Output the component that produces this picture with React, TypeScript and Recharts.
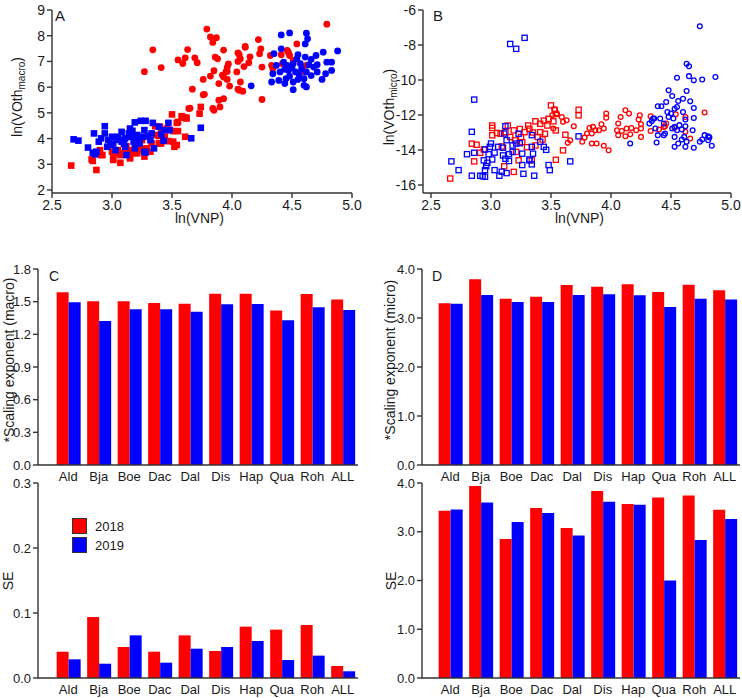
import React from "react";
import {
  ScatterChart,
  Scatter,
  BarChart,
  Bar,
  XAxis,
  YAxis,
  Legend,
} from "recharts";

// ---- panel A: ln(VOth macro) vs ln(VNP) ----
const aRed2018Sq = [
  [2.66, 2.95], [2.87, 2.78], [2.84, 3.13], [2.92, 3.36], [2.83, 3.19], [2.9, 3.55], [2.91, 3.36], [3.01, 3.17],
  [3.01, 3.23], [3.0, 3.49], [3.03, 3.43], [3.07, 3.06], [3.07, 3.36], [3.09, 3.43], [3.14, 3.55], [3.15, 3.23],
  [3.19, 3.43], [3.21, 3.43], [3.21, 3.68], [3.23, 3.55], [3.25, 3.62], [3.25, 3.94], [3.27, 3.3], [3.29, 3.55],
  [3.29, 3.62], [3.32, 3.49], [3.33, 3.81], [3.36, 4.48], [3.37, 4.14], [3.39, 3.81], [3.39, 4.1], [3.4, 4.46],
  [3.41, 4.33], [3.41, 3.81], [3.43, 4.01], [3.44, 4.07], [3.46, 4.39], [3.47, 3.9], [3.48, 4.33], [3.5, 4.94],
  [3.51, 3.88], [3.51, 4.29], [3.52, 3.68], [3.54, 3.75], [3.54, 4.61], [3.55, 4.29], [3.55, 4.65], [3.58, 4.87],
  [3.59, 4.82], [3.61, 4.82], [3.61, 4.07], [3.62, 4.81], [3.73, 4.97], [3.74, 5.23], [3.62, 4.78], [3.15, 3.3],
  [3.12, 3.7], [3.05, 3.55],
];
const aBlue2019Sq = [
  [2.68, 3.97], [2.72, 3.92], [2.8, 3.65], [2.84, 3.45], [2.85, 4.2], [2.86, 3.39], [2.87, 3.49], [2.89, 3.88],
  [2.91, 4.01], [2.94, 4.48], [2.94, 4.2], [2.96, 3.68], [2.97, 3.94], [3.0, 4.07], [3.01, 3.81], [3.03, 3.55],
  [3.05, 4.07], [3.08, 4.26], [3.08, 3.88], [3.11, 3.68], [3.11, 4.01], [3.12, 3.36], [3.15, 4.39], [3.16, 4.07],
  [3.18, 3.88], [3.19, 3.62], [3.19, 4.63], [3.21, 4.14], [3.23, 3.81], [3.24, 4.69], [3.26, 4.07], [3.27, 4.33],
  [3.27, 3.49], [3.28, 4.69], [3.28, 3.46], [3.32, 3.94], [3.33, 4.2], [3.34, 4.61], [3.35, 3.62], [3.39, 4.46],
  [3.41, 4.17], [3.43, 3.92], [3.44, 4.33], [3.47, 4.61], [3.48, 4.33], [3.66, 4.01], [3.74, 4.42], [3.06, 3.95],
  [3.14, 4.2], [3.22, 3.98], [3.3, 4.1], [3.1, 3.8], [2.99, 3.75], [3.17, 4.3],
];
const aRed2018Ci = [
  [3.27, 6.6], [3.34, 7.45], [3.41, 6.76], [3.55, 7.06], [3.59, 6.92], [3.61, 7.14], [3.63, 7.46], [3.64, 5.17],
  [3.65, 5.18], [3.67, 5.92], [3.69, 7.14], [3.76, 6.3], [3.76, 5.7], [3.77, 5.72], [3.79, 8.26], [3.82, 7.95],
  [3.82, 6.43], [3.84, 7.74], [3.84, 5.17], [3.85, 6.64], [3.85, 5.1], [3.86, 7.17], [3.87, 7.92], [3.89, 6.14],
  [3.89, 5.49], [3.9, 5.23], [3.92, 6.47], [3.93, 7.44], [3.93, 6.39], [3.93, 5.55], [3.95, 6.6], [3.96, 6.77],
  [3.96, 6.3], [3.96, 6.61], [3.97, 6.9], [3.98, 6.04], [4.04, 6.59], [4.05, 7.33], [4.05, 7.0], [4.05, 5.92],
  [4.06, 7.26], [4.06, 5.88], [4.07, 7.1], [4.07, 6.2], [4.09, 5.84], [4.1, 6.8], [4.11, 7.58], [4.11, 7.55],
  [4.14, 6.95], [4.15, 7.18], [4.22, 7.85], [4.23, 7.3], [4.24, 7.49], [4.25, 6.78], [4.25, 5.52], [4.32, 7.23],
  [4.33, 6.85], [4.34, 6.72], [4.41, 7.26], [4.42, 6.91], [4.46, 7.43], [4.47, 7.36], [4.48, 7.23], [4.51, 7.04],
  [4.54, 7.68], [4.61, 6.59], [4.62, 6.85], [4.79, 8.45], [3.88, 7.1], [3.71, 6.95],
];
const aBlue2019Ci = [
  [4.16, 6.05], [4.33, 6.2], [4.34, 6.52], [4.35, 7.3], [4.37, 6.85], [4.39, 6.26], [4.4, 6.59], [4.41, 8.03],
  [4.41, 7.49], [4.43, 6.97], [4.44, 6.14], [4.45, 6.33], [4.46, 6.85], [4.47, 6.65], [4.48, 8.11], [4.48, 6.43],
  [4.51, 6.91], [4.51, 6.2], [4.51, 5.9], [4.53, 6.59], [4.54, 7.1], [4.55, 7.26], [4.55, 6.3], [4.57, 6.91],
  [4.58, 6.72], [4.6, 6.33], [4.6, 6.07], [4.61, 7.68], [4.61, 7.17], [4.62, 8.1], [4.62, 6.59], [4.62, 6.01],
  [4.63, 7.88], [4.64, 6.87], [4.66, 7.08], [4.68, 6.78], [4.7, 7.23], [4.71, 6.87], [4.71, 6.59], [4.75, 6.3],
  [4.76, 7.36], [4.78, 6.52], [4.79, 6.97], [4.83, 6.97], [4.83, 6.65], [4.88, 7.41], [4.5, 6.75], [4.56, 6.5],
  [4.44, 6.7], [4.66, 6.45],
];

// ---- panel B: ln(VOth micro) vs ln(VNP) ----
const bRed2018Sq = [
  [2.66, -15.63], [2.84, -13.64], [2.86, -14.65], [2.88, -13.7], [2.91, -14.16], [2.94, -13.97], [3.01, -12.74],
  [3.01, -13.16], [3.01, -12.6], [3.05, -13.03], [3.08, -13.07], [3.09, -13.8], [3.11, -14.93], [3.12, -12.98],
  [3.14, -12.6], [3.16, -13.26], [3.19, -12.88], [3.19, -15.25], [3.2, -13.45], [3.21, -14.11], [3.23, -14.59],
  [3.25, -13.26], [3.26, -13.55], [3.28, -12.98], [3.3, -13.84], [3.31, -12.6], [3.32, -12.79], [3.34, -14.59],
  [3.37, -12.36], [3.37, -13.74], [3.39, -13.26], [3.41, -12.5], [3.41, -12.98], [3.44, -12.32], [3.45, -13.07],
  [3.47, -12.6], [3.48, -12.22], [3.5, -11.45], [3.52, -12.36], [3.53, -11.7], [3.54, -11.94], [3.54, -12.88],
  [3.54, -14.56], [3.6, -14.02], [3.62, -13.13], [3.73, -11.7], [3.73, -12.02], [3.35, -13.0], [3.24, -12.8],
  [3.43, -13.4],
];
const bBlue2019Sq = [
  [2.67, -14.65], [2.73, -15.15], [2.8, -14.24], [2.84, -12.96], [2.84, -15.47], [2.86, -11.12], [2.86, -14.16],
  [2.91, -15.47], [2.93, -15.5], [2.94, -14.59], [2.95, -15.53], [2.95, -15.15], [2.96, -14.92], [2.97, -14.73],
  [2.95, -13.97], [2.99, -13.82], [2.98, -14.24], [3.0, -13.63], [3.01, -14.54], [3.03, -14.15], [3.03, -15.15],
  [3.06, -13.82], [3.07, -15.47], [3.09, -15.24], [3.1, -14.31], [3.1, -13.87], [3.11, -13.06], [3.12, -14.5],
  [3.12, -12.64], [3.13, -13.44], [3.13, -15.32], [3.15, -14.24], [3.15, -14.63], [3.16, -7.94], [3.18, -13.74],
  [3.18, -14.11], [3.21, -8.22], [3.21, -13.63], [3.23, -13.07], [3.24, -13.61], [3.26, -14.21], [3.26, -14.86],
  [3.27, -15.36], [3.28, -7.59], [3.32, -14.54], [3.32, -14.59], [3.34, -13.15], [3.34, -13.82], [3.35, -14.21],
  [3.34, -14.82], [3.36, -15.47], [3.41, -13.53], [3.44, -13.82], [3.46, -13.99], [3.48, -14.86], [3.49, -15.15],
  [3.66, -14.65], [3.73, -13.22],
];
const bRed2018Ci = [
  [3.51, -12.02], [3.52, -12.77], [3.53, -11.69], [3.55, -11.92], [3.59, -12.11], [3.6, -12.39], [3.63, -12.3],
  [3.64, -13.59], [3.66, -13.44], [3.69, -12.64], [3.76, -13.53], [3.78, -13.28], [3.8, -13.06], [3.82, -12.74],
  [3.84, -13.63], [3.84, -13.06], [3.85, -12.68], [3.87, -12.87], [3.88, -13.63], [3.9, -12.87], [3.92, -12.53],
  [3.94, -12.77], [3.94, -13.76], [3.96, -11.92], [3.96, -12.15], [3.98, -14.01], [4.05, -12.87], [4.06, -12.49],
  [4.06, -13.15], [4.08, -12.11], [4.09, -12.91], [4.12, -11.73], [4.12, -13.21], [4.13, -12.77], [4.15, -11.92],
  [4.16, -13.1], [4.17, -12.74], [4.21, -12.87], [4.23, -12.26], [4.24, -12.02], [4.25, -12.53], [4.25, -12.77],
  [4.25, -13.25], [4.33, -12.07], [4.33, -12.91], [4.4, -12.83], [4.44, -12.68], [4.45, -12.64], [4.46, -12.49],
  [4.53, -12.74], [4.54, -11.96], [4.62, -12.11], [4.62, -12.96], [4.66, -13.34], [4.78, -11.86],
];
const bBlue2019Ci = [
  [4.74, -6.93], [4.63, -9.07], [4.65, -9.21], [4.55, -9.87], [4.65, -9.78], [4.69, -10.02], [4.76, -9.97],
  [4.87, -9.83], [4.48, -10.59], [4.51, -10.91], [4.63, -10.63], [4.56, -11.2], [4.6, -11.07], [4.66, -11.22],
  [4.39, -11.5], [4.42, -11.5], [4.46, -11.26], [4.55, -11.54], [4.6, -11.83], [4.53, -11.64], [4.69, -11.6],
  [4.69, -12.17], [4.47, -11.83], [4.5, -11.92], [4.48, -12.11], [4.52, -12.2], [4.41, -12.2], [4.36, -12.2],
  [4.34, -12.34], [4.32, -12.49], [4.44, -12.49], [4.62, -12.26], [4.57, -12.58], [4.53, -12.68], [4.51, -12.77],
  [4.55, -12.87], [4.59, -12.83], [4.62, -12.64], [4.68, -12.87], [4.37, -12.77], [4.39, -13.15], [4.45, -13.06],
  [4.44, -13.15], [4.38, -13.57], [4.53, -13.25], [4.56, -13.63], [4.53, -13.82], [4.59, -13.4], [4.61, -13.25],
  [4.63, -13.53], [4.62, -13.82], [4.69, -13.87], [4.74, -13.53], [4.76, -13.4], [4.78, -13.15], [4.81, -13.21],
  [4.82, -13.28], [4.84, -13.76], [4.81, -13.44], [4.16, -13.63], [4.35, -12.2],
];

const xTicks = [2.5, 3.0, 3.5, 4.0, 4.5, 5.0];
const aYTicks = [2, 3, 4, 5, 6, 7, 8, 9];
const bYTicks = [-16, -14, -12, -10, -8, -6];

// ---- panels C and D: bars ----
const species = ["Ald", "Bja", "Boe", "Dac", "Dal", "Dis", "Hap", "Qua", "Roh", "ALL"];
const years = ["2018", "2019"];
const macroExp2018 = [1.586, 1.503, 1.503, 1.488, 1.482, 1.573, 1.573, 1.42, 1.57, 1.521];
const macroExp2019 = [1.494, 1.323, 1.43, 1.43, 1.408, 1.476, 1.479, 1.329, 1.448, 1.424];
const macroSE2018 = [0.0405, 0.0938, 0.0477, 0.0405, 0.0656, 0.0415, 0.079, 0.0744, 0.0815, 0.0185];
const macroSE2019 = [0.0287, 0.022, 0.0656, 0.0236, 0.0451, 0.0477, 0.0569, 0.0277, 0.0344, 0.0103];
const microExp2018 = [3.3, 3.79, 3.395, 3.436, 3.675, 3.64, 3.69, 3.53, 3.68, 3.566];
const microExp2019 = [3.293, 3.47, 3.327, 3.327, 3.47, 3.484, 3.464, 3.225, 3.395, 3.38];
const microSE2018 = [3.43, 3.936, 2.85, 3.485, 3.075, 3.834, 3.567, 3.704, 3.745, 3.451];
const microSE2019 = [3.458, 3.6, 3.198, 3.383, 2.925, 3.615, 3.554, 2.0, 2.83, 3.26];

const cTopTicks = [0, 0.3, 0.6, 0.9, 1.2, 1.5, 1.8];
const cSETicks = [0, 0.1, 0.2, 0.3];
const dTicks = [0, 1, 2, 3, 4];

const RED = "#ff0000";
const BLUE = "#0000ff";
const INK = "#1a1a1a";
const AXIS = { stroke: "#333", strokeWidth: 1.4 };
const TICK = { fontSize: 14, fill: INK };
const BTICK = { fontSize: 13, fill: INK };

const pts = (arr: number[][]) => arr.map(([x, y]) => ({ x, y }));
const rows = (a: number[], b: number[]) =>
  species.map((s, i) => ({ sp: s, v2018: a[i], v2019: b[i] }));

const fmt1 = (v: number) => v.toFixed(1);

function filledSquare(color: string) {
  return (p: any) => <rect x={p.cx - 3.3} y={p.cy - 3.3} width={6.6} height={6.6} fill={color} />;
}
function filledCircle(color: string) {
  return (p: any) => <circle cx={p.cx} cy={p.cy} r={3.4} fill={color} />;
}
function openSquare(color: string) {
  return (p: any) => (
    <rect x={p.cx - 2.6} y={p.cy - 2.6} width={5.2} height={5.2} fill="none" stroke={color} strokeWidth={1.3} />
  );
}
function openCircle(color: string) {
  return (p: any) => <circle cx={p.cx} cy={p.cy} r={2.4} fill="none" stroke={color} strokeWidth={1.3} />;
}

function VTitle({ x, y, children }: { x: number; y: number; children: React.ReactNode }) {
  return (
    <div
      style={{
        position: "absolute",
        left: x,
        top: y,
        transform: "translate(-50%,-50%) rotate(-90deg)",
        whiteSpace: "nowrap",
        fontSize: 14,
        color: INK,
      }}
    >
      {children}
    </div>
  );
}

function Txt({ x, y, size = 14, children }: { x: number; y: number; size?: number; children: React.ReactNode }) {
  return (
    <div style={{ position: "absolute", left: x, top: y, fontSize: size, color: INK, lineHeight: 1, whiteSpace: "nowrap" }}>
      {children}
    </div>
  );
}

function YearLegend() {
  const cols = [RED, BLUE];
  return (
    <div>
      {years.map((y, i) => (
        <div key={y} style={{ display: "flex", alignItems: "center", height: 16, marginBottom: 3 }}>
          <span
            style={{
              display: "inline-block",
              width: 15,
              height: 16,
              background: cols[i],
              border: "1.3px solid #333",
              boxSizing: "border-box",
              marginRight: 8,
            }}
          />
          <span style={{ fontSize: 13, color: INK }}>{y}</span>
        </div>
      ))}
    </div>
  );
}

function Pos({ left, top, children }: { left: number; top: number; children: React.ReactNode }) {
  return <div style={{ position: "absolute", left, top }}>{children}</div>;
}

function BarPanel(props: {
  a: number[];
  b: number[];
  ticks: number[];
  max: number;
  width: number;
  height: number;
  top: number;
  right: number;
  yWidth: number;
  padLeft: number;
  legend?: boolean;
}) {
  return (
    <BarChart
      width={props.width}
      height={props.height}
      data={rows(props.a, props.b)}
      margin={{ top: props.top, right: props.right, bottom: 0, left: 0 }}
      barCategoryGap="12%"
      barGap={0}
    >
      <XAxis
        dataKey="sp"
        height={20}
        interval={0}
        padding={{ left: props.padLeft, right: 0 }}
        tickLine={false}
        tickSize={4}
        tickMargin={3}
        axisLine={AXIS}
        tick={BTICK}
      />
      <YAxis
        type="number"
        domain={[0, props.max]}
        ticks={props.ticks}
        tickFormatter={fmt1}
        width={props.yWidth}
        tickSize={5}
        tickMargin={2}
        axisLine={AXIS}
        tickLine={AXIS}
        tick={BTICK}
      />
      {props.legend && (
        <Legend
          layout="horizontal"
          verticalAlign="middle"
          align="center"
          wrapperStyle={{ left: 72, top: 48, width: 80 }}
          content={<YearLegend />}
        />
      )}
      <Bar dataKey="v2018" name={years[0]} fill={RED} isAnimationActive={false} />
      <Bar dataKey="v2019" name={years[1]} fill={BLUE} isAnimationActive={false} />
    </BarChart>
  );
}

export default function App() {
  return (
    <div
      style={{
        position: "absolute",
        left: 0,
        top: 0,
        width: 742,
        height: 698,
        background: "#fff",
        fontFamily: "'Liberation Sans', Arial, sans-serif",
        overflow: "hidden",
      }}
    >
      {/* A */}
      <Pos left={0} top={0}>
        <ScatterChart width={370} height={240} margin={{ top: 10, right: 18, bottom: 22, left: 0 }}>
          <XAxis
            type="number"
            dataKey="x"
            domain={[2.5, 5]}
            ticks={xTicks}
            tickFormatter={fmt1}
            height={25}
            tickSize={5}
            tickMargin={2}
            axisLine={AXIS}
            tickLine={AXIS}
            tick={TICK}
          />
          <YAxis
            type="number"
            dataKey="y"
            domain={[2, 9]}
            ticks={aYTicks}
            width={52}
            padding={{ bottom: 3 }}
            tickSize={5}
            tickMargin={2}
            axisLine={AXIS}
            tickLine={AXIS}
            tick={TICK}
          />
          <Scatter data={pts(aRed2018Sq)} fill={RED} shape={filledSquare(RED)} isAnimationActive={false} />
          <Scatter data={pts(aBlue2019Sq)} fill={BLUE} shape={filledSquare(BLUE)} isAnimationActive={false} />
          <Scatter data={pts(aRed2018Ci)} fill={RED} shape={filledCircle(RED)} isAnimationActive={false} />
          <Scatter data={pts(aBlue2019Ci)} fill={BLUE} shape={filledCircle(BLUE)} isAnimationActive={false} />
        </ScatterChart>
      </Pos>

      {/* B */}
      <Pos left={370} top={0}>
        <ScatterChart width={372} height={240} margin={{ top: 10, right: 11, bottom: 22, left: 0 }}>
          <XAxis
            type="number"
            dataKey="x"
            domain={[2.5, 5]}
            ticks={xTicks}
            tickFormatter={fmt1}
            height={25}
            padding={{ left: 8, right: 0 }}
            tickSize={5}
            tickMargin={2}
            axisLine={AXIS}
            tickLine={AXIS}
            tick={TICK}
          />
          <YAxis
            type="number"
            dataKey="y"
            domain={[-16, -6]}
            ticks={bYTicks}
            width={53}
            padding={{ bottom: 8 }}
            tickSize={5}
            tickMargin={2}
            axisLine={AXIS}
            tickLine={AXIS}
            tick={TICK}
          />
          <Scatter data={pts(bRed2018Sq)} fill={RED} shape={openSquare(RED)} isAnimationActive={false} />
          <Scatter data={pts(bBlue2019Sq)} fill={BLUE} shape={openSquare(BLUE)} isAnimationActive={false} />
          <Scatter data={pts(bRed2018Ci)} fill={RED} shape={openCircle(RED)} isAnimationActive={false} />
          <Scatter data={pts(bBlue2019Ci)} fill={BLUE} shape={openCircle(BLUE)} isAnimationActive={false} />
        </ScatterChart>
      </Pos>

      {/* C top */}
      <Pos left={0} top={255}>
        <BarPanel a={macroExp2018} b={macroExp2019} ticks={cTopTicks} max={1.8} width={370} height={230} top={14} right={12} yWidth={38} padLeft={15} />
      </Pos>
      {/* C bottom */}
      <Pos left={0} top={470}>
        <BarPanel a={macroSE2018} b={macroSE2019} ticks={cSETicks} max={0.3} width={370} height={228} top={13} right={12} yWidth={38} padLeft={15} legend />
      </Pos>
      {/* D top */}
      <Pos left={370} top={255}>
        <BarPanel a={microExp2018} b={microExp2019} ticks={dTicks} max={4} width={372} height={230} top={14} right={2} yWidth={52} padLeft={13} />
      </Pos>
      {/* D bottom */}
      <Pos left={370} top={470}>
        <BarPanel a={microSE2018} b={microSE2019} ticks={dTicks} max={4} width={372} height={228} top={13} right={2} yWidth={52} padLeft={13} />
      </Pos>

      {/* panel letters */}
      <Txt x={55} y={8} size={15}>A</Txt>
      <Txt x={433} y={8} size={15}>B</Txt>
      <Txt x={49} y={269} size={14}>C</Txt>
      <Txt x={432} y={269} size={14}>D</Txt>

      {/* axis titles */}
      <Txt x={175} y={211}>ln(VNP)</Txt>
      <Txt x={555} y={211}>ln(VNP)</Txt>
      <VTitle x={18} y={97}>
        ln(VOth<sub style={{ fontSize: 10 }}>macro</sub>)
      </VTitle>
      <VTitle x={390} y={107}>
        ln(VOth<sub style={{ fontSize: 10 }}>micro</sub>)
      </VTitle>
      <VTitle x={9} y={360}>*Scaling exponent (macro)</VTitle>
      <VTitle x={390} y={360}>*Scaling exponent (micro)</VTitle>
      <VTitle x={8} y={581}>SE</VTitle>
      <VTitle x={391} y={581}>SE</VTitle>
    </div>
  );
}
